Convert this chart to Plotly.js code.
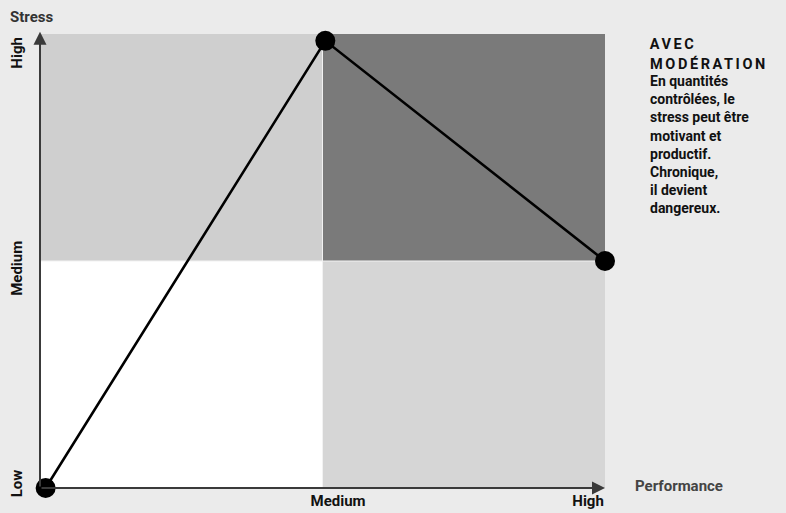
<!DOCTYPE html>
<html>
<head>
<meta charset="utf-8">
<script src="https://cdn.plot.ly/plotly-3.0.1.min.js"></script>
<style>html,body{margin:0;padding:0;background:#ebebeb;}</style>
</head>
<body>
<div id="chart" style="width:786px;height:513px;"></div>
<script>
// Data
var performance = [0.02, 1.01, 2.0];
var stress = [0.0, 1.97, 1.0];
var quadX = [0, 1, 2];          // quadrant boundaries (performance)
var quadY = [0, 1, 2];          // quadrant boundaries (stress)
var quadColors = [['#ffffff', '#d6d6d6'], ['#cfcfcf', '#7a7a7a']]; // [row][col]
var xTickVals = [1.055, 1.94];
var xTickText = ['Medium', 'High'];
var yTickVals = [0.01, 0.958, 1.907];
var yTickText = ['Low', 'Medium', 'High'];
var heading = ['AVEC', 'MODÉRATION'];
var bodyLines = ['En quantités', 'contrôlées, le', 'stress peut être', 'motivant et', 'productif.', 'Chronique,', 'il devient', 'dangereux.'];

var FONT = 'Roboto, Noto Sans, sans-serif';
function f(size, color) { return {family: FONT, size: size, color: color, weight: 'bold'}; }

var shapes = [];
for (var r = 0; r < 2; r++) {
  for (var c = 0; c < 2; c++) {
    shapes.push({type: 'rect', xref: 'x', yref: 'y', layer: 'below',
      x0: quadX[c], x1: quadX[c + 1], y0: quadY[r], y1: quadY[r + 1],
      fillcolor: quadColors[r][c], line: {width: 0}});
  }
}
shapes.push({type: 'line', xref: 'x', yref: 'y', layer: 'below', x0: quadX[1], x1: quadX[1], y0: quadY[0], y1: quadY[2], line: {color: '#f2f2f2', width: 1}});
shapes.push({type: 'line', xref: 'x', yref: 'y', layer: 'below', x0: quadX[0], x1: quadX[2], y0: quadY[1], y1: quadY[1], line: {color: '#f2f2f2', width: 1}});

var annotations = [
  {x: quadX[0], y: 2.01, ax: quadX[0], ay: 0, xref: 'x', yref: 'y', axref: 'x', ayref: 'y',
   showarrow: true, arrowhead: 2, arrowsize: 1.3, arrowwidth: 2, arrowcolor: '#3a3a3a', text: '', standoff: 0},
  {x: quadX[2], y: 0, ax: quadX[0], ay: 0, xref: 'x', yref: 'y', axref: 'x', ayref: 'y',
   showarrow: true, arrowhead: 2, arrowsize: 1.3, arrowwidth: 2, arrowcolor: '#3a3a3a', text: '', standoff: 0},
  {xref: 'paper', yref: 'paper', x: -0.057, y: 1.0, yshift: 17, xanchor: 'left', yanchor: 'middle',
   showarrow: false, text: 'Stress', font: f(15, '#333333')},
  {xref: 'paper', yref: 'y', x: 1.05, y: 0.01, xanchor: 'left', yanchor: 'middle',
   showarrow: false, text: 'Performance', font: f(15, '#444444')},
  {xref: 'paper', yref: 'paper', x: 1.078, y: 1, yshift: 34 - 72, xanchor: 'left', yanchor: 'top', align: 'left',
   showarrow: false, text: bodyLines.join('<br>'), font: f(14, '#111111'), borderpad: 0}
];
heading.forEach(function (t, i) {
  annotations.push({xref: 'paper', yref: 'paper', x: 1.078, y: 1, yshift: 34 - 44 - i * 20, xanchor: 'left', yanchor: 'middle',
    showarrow: false, text: t, font: f(14.5, '#111111'), borderpad: 0});
});

var trace = {
  x: performance, y: stress, type: 'scatter', mode: 'lines+markers',
  line: {color: '#000000', width: 2.6},
  marker: {color: '#000000', size: 20},
  cliponaxis: false, hoverinfo: 'none'
};

var layout = {
  width: 786, height: 513,
  margin: {l: 40, r: 181, t: 34, b: 25},
  paper_bgcolor: '#ebebeb', plot_bgcolor: '#ebebeb',
  showlegend: false,
  xaxis: {range: [0, 2], showgrid: false, zeroline: false, showline: false, ticks: '',
    tickvals: xTickVals, ticktext: xTickText, ticklabelstandoff: 2,
    tickfont: f(15, '#111111')},
  yaxis: {range: [0, 2], showgrid: false, zeroline: false, showline: false, ticks: '',
    tickvals: yTickVals, ticktext: yTickText, tickangle: -90, ticklabelstandoff: 14,
    tickfont: f(15, '#111111')},
  shapes: shapes,
  annotations: annotations
};

Plotly.newPlot('chart', [trace], layout, {displayModeBar: false, staticPlot: true}).then(function () {
  var texts = document.querySelectorAll('.annotation-text');
  texts.forEach(function (el) {
    if (heading.indexOf(el.textContent) >= 0) {
      var w0 = el.getBBox().width;
      el.style.letterSpacing = '2.6px';
      var w1 = el.getBBox().width;
      el.setAttribute('transform', 'translate(' + ((w1 - w0) / 2) + ',0)');
    }
  });
});
</script>
</body>
</html>
